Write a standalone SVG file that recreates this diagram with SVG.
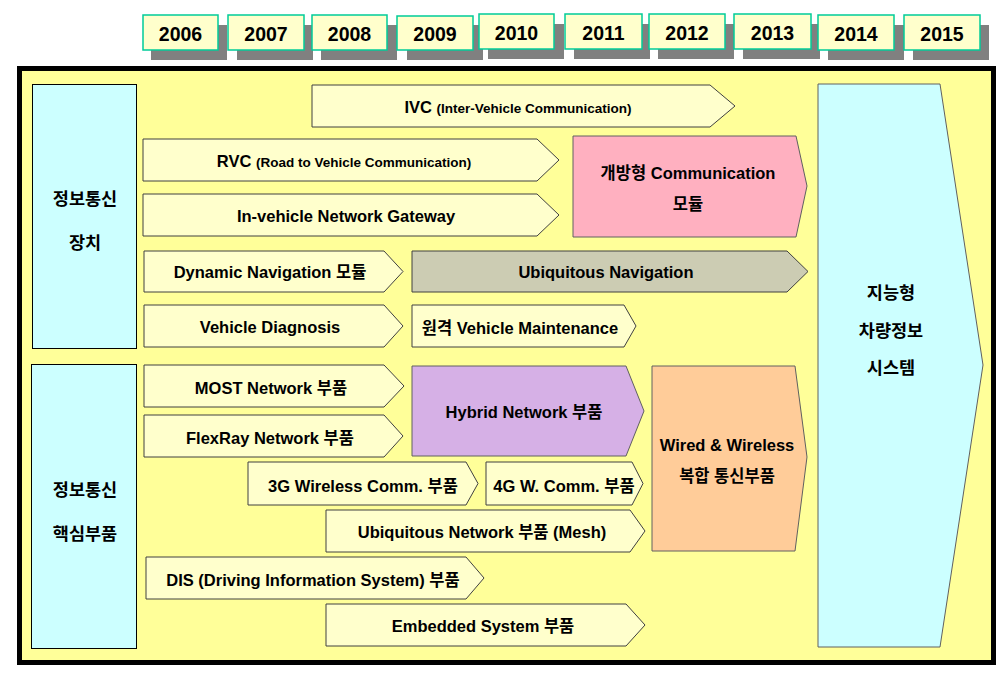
<svg xmlns="http://www.w3.org/2000/svg" width="1003" height="681" viewBox="0 0 1003 681">
<style>
text{font-family:"Liberation Sans","Noto Sans CJK KR",sans-serif;font-weight:bold;fill:#000;text-anchor:middle}
.yr rect.s{fill:#808080}
.yr rect.b{fill:#FFFFCC;stroke:#00CC99;stroke-width:1.5}
.yr text{font-size:19.5px}
.a{fill:#FFFFCC;stroke:#404040;stroke-width:1}
.t{font-size:16.5px}
.sm{font-size:13.5px}
.side{fill:#CCFFFF;stroke:#000;stroke-width:1}
.st{font-size:17.5px}
</style>
<rect x="0" y="0" width="1003" height="681" fill="#fff"/>
<g id="years" class="yr">
<rect class="s" x="151" y="25" width="76" height="35"/><rect class="b" x="143" y="15" width="75" height="35"/><text x="180.5" y="41">2006</text>
<rect class="s" x="237" y="25" width="76" height="35"/><rect class="b" x="228" y="15" width="76" height="35"/><text x="266" y="41">2007</text>
<rect class="s" x="321" y="25" width="76" height="35"/><rect class="b" x="312" y="15" width="75" height="35"/><text x="349.5" y="41">2008</text>
<rect class="s" x="407" y="25" width="76" height="35"/><rect class="b" x="397" y="16" width="76" height="34"/><text x="435" y="41">2009</text>
<rect class="s" x="488" y="24" width="76" height="35"/><rect class="b" x="479" y="14" width="75" height="35"/><text x="516.5" y="40">2010</text>
<rect class="s" x="574" y="24" width="76" height="35"/><rect class="b" x="565" y="14" width="77" height="35"/><text x="603.5" y="40">2011</text>
<rect class="s" x="658" y="24" width="76" height="35"/><rect class="b" x="649" y="14" width="76" height="35"/><text x="687" y="40">2012</text>
<rect class="s" x="743" y="24" width="77" height="35"/><rect class="b" x="734" y="14" width="77" height="35"/><text x="772.5" y="40">2013</text>
<rect class="s" x="828" y="25" width="76" height="35"/><rect class="b" x="818" y="15" width="76" height="35"/><text x="856" y="41">2014</text>
<rect class="s" x="913" y="25" width="76" height="35"/><rect class="b" x="904" y="15" width="76" height="35"/><text x="942" y="41">2015</text>
</g>
<g id="frame">
<rect x="19.5" y="68.5" width="974" height="594" fill="#FFFF99" stroke="#000" stroke-width="5"/>
</g>
<g id="side1"><rect class="side" x="32.5" y="84.5" width="104" height="264"/><text class="st" x="85" y="205">정보통신</text><text class="st" x="85" y="249">장치</text></g>
<g id="side2"><rect class="side" x="31.5" y="364.5" width="105" height="284"/><text class="st" x="85" y="496">정보통신</text><text class="st" x="85" y="540">핵심부품</text></g>
<g id="ivc"><polygon class="a" points="312,85 710,85 735,106 710,127 312,127"/><text x="518" y="113"><tspan class="t">IVC </tspan><tspan class="sm">(Inter-Vehicle Communication)</tspan></text></g>
<g id="rvc"><polygon class="a" points="143,139 537,139 559,160 537,181 143,181"/><text x="344" y="167"><tspan class="t">RVC </tspan><tspan class="sm">(Road to Vehicle Communication)</tspan></text></g>
<g id="gateway"><polygon class="a" points="143,194 537,194 559,215 537,236 143,236"/><text class="t" x="346" y="222">In-vehicle Network Gateway</text></g>
<g id="opencomm"><polygon points="573,136 796,136 807,186 796,237 573,237" fill="#FFB0C0" stroke="#606060"/><text class="t" x="688" y="179">개방형 Communication</text><text class="t" x="688" y="210">모듈</text></g>
<g id="dynnav"><polygon class="a" points="144,251 384,251 403,271.5 384,292 144,292"/><text class="t" x="270" y="278">Dynamic Navigation 모듈</text></g>
<g id="ubinav"><polygon points="412,251 787,251 808,271.5 787,292 412,292" fill="#CCCCB3" stroke="#404040"/><text class="t" x="606" y="278">Ubiquitous Navigation</text></g>
<g id="diag"><polygon class="a" points="144,305 384,305 403,326 384,347 144,347"/><text class="t" x="270" y="333">Vehicle Diagnosis</text></g>
<g id="maint"><polygon class="a" points="412,305 624,305 636,326 624,347 412,347"/><text class="t" x="520" y="334">원격 Vehicle Maintenance</text></g>
<g id="most"><polygon class="a" points="144,365 384,365 404,386 384,407 144,407"/><text class="t" x="271" y="394">MOST Network 부품</text></g>
<g id="flexray"><polygon class="a" points="144,415 384,415 403,436 384,457 144,457"/><text class="t" x="270" y="444">FlexRay Network 부품</text></g>
<g id="hybrid"><polygon points="412,366 626,366 644,411 626,456 412,456" fill="#D6B0E6" stroke="#606060"/><text class="t" x="524" y="418">Hybrid Network 부품</text></g>
<g id="g3"><polygon class="a" points="248,462 466,462 478,483.5 466,505 248,505"/><text class="t" x="363" y="492">3G Wireless Comm. 부품</text></g>
<g id="g4"><polygon class="a" points="486,462 632,462 643,483.5 632,505 486,505"/><text class="t" x="564" y="492">4G W. Comm. 부품</text></g>
<g id="mesh"><polygon class="a" points="326,510 630,510 645,531 630,552 326,552"/><text class="t" x="482" y="538">Ubiquitous Network 부품 (Mesh)</text></g>
<g id="wired"><polygon points="652,366 795,366 807,457 795,551 652,551" fill="#FFCC99" stroke="#606060"/><text class="t" x="727" y="451">Wired &amp; Wireless</text><text class="t" x="727" y="482">복합 통신부품</text></g>
<g id="dis"><polygon class="a" points="146,557 466,557 484,578 466,599 146,599"/><text class="t" x="313" y="586">DIS (Driving Information System) 부품</text></g>
<g id="embedded"><polygon class="a" points="326,604 626,604 645,625 626,646 326,646"/><text class="t" x="483" y="632">Embedded System 부품</text></g>
<g id="ivis"><polygon points="818,84 940,84 983,365 940,647 818,647" fill="#CCFFFF" stroke="#606060"/><text class="st" x="891" y="299">지능형</text><text class="st" x="891" y="337">차량정보</text><text class="st" x="891" y="374">시스템</text></g>
<g id="connectors"></g>
</svg>
